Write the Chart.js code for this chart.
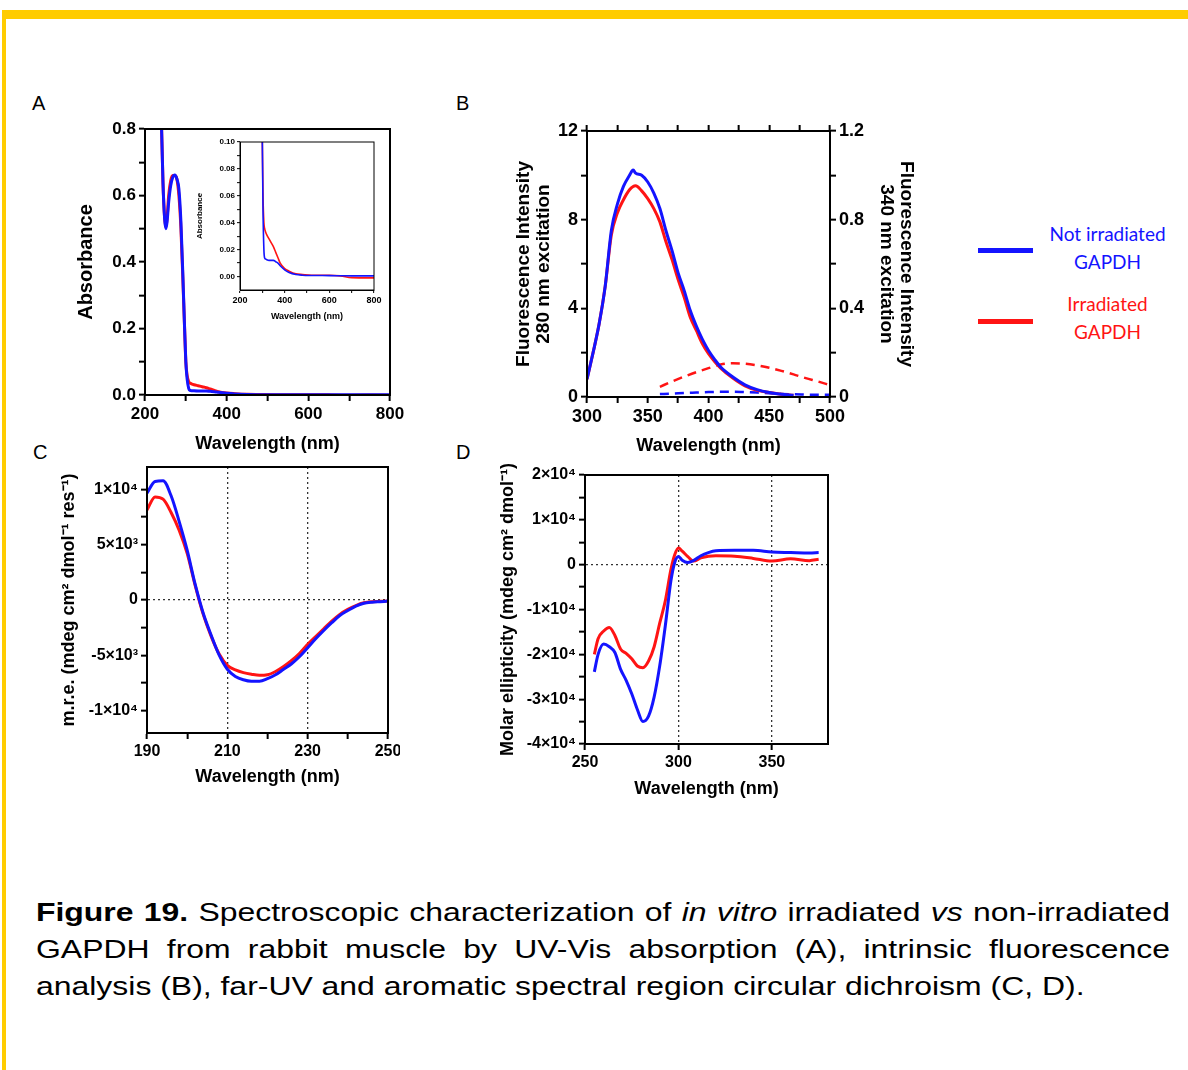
<!DOCTYPE html>
<html>
<head>
<meta charset="utf-8">
<script src="https://cdn.jsdelivr.net/npm/chart.js@4.4.1/dist/chart.umd.min.js"></script>
<style>
  body { margin: 0; background: #fff; width: 1188px; height: 1070px; position: relative; overflow: hidden; font-family: "Liberation Sans", Arial, sans-serif; }
  #border { position: absolute; left: 2px; top: 10px; right: 0; bottom: 0; border-top: 9px solid #ffcc00; border-left: 4px solid #ffcc00; }
  canvas { position: absolute; }
  .panel { position: absolute; font-size: 20px; line-height: 1; color: #000; }
  .legline { position: absolute; left: 978px; width: 55px; height: 5px; }
  .legtext { position: absolute; left: 1030px; width: 155px; text-align: center; font-family: Lato, "Open Sans", sans-serif; font-size: 19px; line-height: 28px; }
  #caption { position: absolute; left: 36px; width: 888px; top: 894px; font-size: 25px; line-height: 37px; color: #000; transform: scaleX(1.277); transform-origin: 0 0; }
  #caption .j { text-align: justify; text-align-last: justify; }
</style>
</head>
<body>
<div id="border"></div>

<div class="panel" style="left:32px;top:93px">A</div>
<div class="panel" style="left:456px;top:93px">B</div>
<div class="panel" style="left:33px;top:442px">C</div>
<div class="panel" style="left:456px;top:442px">D</div>

<canvas id="chartA" width="338" height="352" style="left:72px;top:105px"></canvas>
<canvas id="chartInset" width="190" height="192" style="left:192px;top:133px"></canvas>
<canvas id="chartB" width="410" height="359" style="left:510px;top:100px"></canvas>
<canvas id="chartC" width="344" height="350" style="left:56px;top:440px"></canvas>
<canvas id="chartD" width="355" height="372" style="left:495px;top:430px"></canvas>

<div class="legline" style="top:248px;background:#1414ff"></div>
<div class="legtext" style="top:220px;color:#1414ff">Not irradiated<br>GAPDH</div>
<div class="legline" style="top:319px;background:#ff1414"></div>
<div class="legtext" style="top:290px;color:#ff1414">Irradiated<br>GAPDH</div>

<div id="caption">
  <div class="j"><b>Figure 19.</b> Spectroscopic characterization of <i>in vitro</i> irradiated <i>vs</i> non-irradiated</div>
  <div class="j">GAPDH from rabbit muscle by UV-Vis absorption (A), intrinsic fluorescence</div>
  <div>analysis (B), far-UV and aromatic spectral region circular dichroism (C, D).</div>
</div>

<script>
// Panel A - UV-Vis absorption (also used by the inset)
const absWl = [238, 240, 244, 248, 251, 254, 258, 263, 268, 273, 278, 283, 288, 293, 297, 300, 303, 307, 310, 315, 320, 330, 340, 350, 360, 370, 380, 400, 420, 450, 480, 520, 600, 650, 700, 800];
const absNotIrr = [0.95, 0.83, 0.64, 0.53, 0.50, 0.52, 0.58, 0.63, 0.655, 0.662, 0.65, 0.62, 0.52, 0.35, 0.2, 0.1, 0.05, 0.02, 0.014, 0.013, 0.0125, 0.012, 0.012, 0.012, 0.011, 0.010, 0.008, 0.005, 0.003, 0.0015, 0.001, 0.0008, 0.0007, 0.0006, 0.0005, 0.0005];
const absIrr = [0.95, 0.83, 0.64, 0.535, 0.505, 0.53, 0.6, 0.645, 0.66, 0.66, 0.65, 0.6, 0.5, 0.34, 0.2, 0.1, 0.06, 0.04, 0.036, 0.033, 0.031, 0.028, 0.025, 0.022, 0.018, 0.014, 0.010, 0.006, 0.004, 0.002, 0.0015, 0.001, 0.001, 0.0005, -0.0008, -0.001];
const absXTicks = [200, 300, 400, 500, 600, 700, 800];
const absXLabels = [200, 400, 600, 800];
const absYTicks = [0, 0.1, 0.2, 0.3, 0.4, 0.5, 0.6, 0.7, 0.8];
const absYLabels = [0, 0.2, 0.4, 0.6, 0.8];
const insetYTicks = [0, 0.01, 0.02, 0.03, 0.04, 0.05, 0.06, 0.07, 0.08, 0.09, 0.1];
const insetYLabels = [0, 0.02, 0.04, 0.06, 0.08, 0.1];

// Panel B - intrinsic fluorescence
const fluoWl = [300, 305, 310, 315, 320, 325, 330, 335, 338, 340, 345, 350, 355, 360, 365, 370, 375, 380, 385, 390, 395, 400, 405, 410, 420, 430, 440, 450, 460, 470];
const fluoNotIrr280 = [0.8, 2.0, 3.3, 5.0, 7.5, 8.7, 9.5, 10.0, 10.24, 10.1, 10.0, 9.7, 9.2, 8.5, 7.5, 6.6, 5.6, 4.8, 3.9, 3.2, 2.6, 2.1, 1.7, 1.35, 0.9, 0.55, 0.33, 0.2, 0.12, 0.08];
const fluoIrr280 = [0.8, 2.0, 3.3, 5.0, 7.3, 8.3, 8.9, 9.35, 9.5, 9.53, 9.3, 8.95, 8.5, 7.9, 7.0, 6.2, 5.3, 4.5, 3.6, 3.0, 2.4, 1.95, 1.6, 1.3, 0.85, 0.5, 0.3, 0.2, 0.12, 0.08];
const fluo340Wl = [360, 370, 380, 390, 400, 410, 420, 430, 440, 450, 460, 470, 480, 490, 500];
const fluoNotIrr340 = [0.013, 0.015, 0.018, 0.02, 0.022, 0.024, 0.024, 0.022, 0.02, 0.017, 0.014, 0.012, 0.011, 0.01, 0.01];
const fluoIrr340 = [0.046, 0.07, 0.092, 0.112, 0.13, 0.147, 0.152, 0.15, 0.143, 0.132, 0.118, 0.102, 0.085, 0.07, 0.054];
const fluoXTicks = [300, 325, 350, 375, 400, 425, 450, 475, 500];
const fluoXLabels = [300, 350, 400, 450, 500];
const fluoYTicks = [0, 2, 4, 6, 8, 10, 12];
const fluoYLabels = [0, 4, 8, 12];
const fluoY2Ticks = [0, 0.2, 0.4, 0.6, 0.8, 1.0, 1.2];
const fluoY2Labels = [0, 0.4, 0.8, 1.2];

// Panel C - far-UV CD
const farWl = [190, 192, 194, 196, 198, 200, 202, 204, 206, 208, 210, 212, 214, 216, 218, 220, 222, 224, 226, 228, 230, 232, 234, 236, 238, 240, 242, 244, 246, 248, 250];
const farNotIrr = [9640, 10700, 10750, 9400, 7100, 4500, 1400, -1200, -3200, -5000, -6250, -6900, -7200, -7330, -7330, -7100, -6750, -6250, -5750, -5100, -4300, -3500, -2750, -2050, -1400, -950, -550, -300, -200, -150, -100];
const farIrr = [8120, 9300, 9100, 7900, 6300, 4200, 1300, -1300, -3300, -4900, -5900, -6300, -6550, -6700, -6800, -6750, -6450, -6000, -5450, -4800, -4000, -3300, -2600, -1900, -1300, -850, -500, -250, -150, -120, -100];
const farXTicks = [190, 200, 210, 220, 230, 240, 250];
const farXLabels = [190, 210, 230, 250];
const farYTicks = [-10000, -7500, -5000, -2500, 0, 2500, 5000, 7500, 10000];
const farYLabels = [-10000, -5000, 0, 5000, 10000];

// Panel D - aromatic region CD
const aroWl = [255, 257, 260, 263, 266, 269, 272, 275, 278, 281, 284, 287, 290, 293, 296, 298, 300, 302, 305, 308, 312, 316, 320, 330, 340, 350, 360, 370, 375];
const aroNotIrr = [-23900, -20000, -17700, -18300, -19600, -23300, -25800, -28800, -32300, -35000, -33800, -29500, -22500, -13500, -3500, 500, 1800, 1000, 500, 900, 2000, 2700, 3100, 3200, 3200, 2800, 2700, 2600, 2700];
const aroIrr = [-20000, -16500, -14800, -14000, -15800, -18800, -19800, -21000, -22600, -23000, -21500, -18300, -13000, -8000, -1000, 2200, 3700, 3000, 1800, 800, 1500, 1900, 2000, 1900, 1400, 800, 1300, 900, 1200];
const aroXTicks = [250, 300, 350];
const aroXLabels = [250, 300, 350];
const aroYTicks = [-40000, -35000, -30000, -25000, -20000, -15000, -10000, -5000, 0, 5000, 10000, 15000, 20000];
const aroYLabels = [-40000, -30000, -20000, -10000, 0, 10000, 20000];

const BLUE = '#1414ff';
const RED = '#ff1414';
const FONT = '"Liberation Sans", Arial, sans-serif';

const SUP = { '0': '⁰', '1': '¹', '2': '²', '3': '³', '4': '⁴', '5': '⁵', '6': '⁶', '7': '⁷', '8': '⁸', '9': '⁹', '-': '⁻' };
function sci(v) {
  if (v === 0) return '0';
  const e = Math.floor(Math.log10(Math.abs(v)));
  const m = Math.round(v / Math.pow(10, e));
  return m + '×10' + String(e).split('').map(c => SUP[c]).join('');
}

function pts(xs, ys) {
  return xs.map((x, i) => ({ x: x, y: ys[i] }));
}

function line(label, xs, ys, color, extra) {
  return Object.assign({
    label: label, data: pts(xs, ys), borderColor: color, backgroundColor: color,
    borderWidth: 3, pointRadius: 0, fill: false, cubicInterpolationMode: 'monotone'
  }, extra || {});
}

// box round the plot area, like the Prism frame
const frame = {
  id: 'frame',
  afterDraw(chart, args, opts) {
    const a = chart.chartArea, c = chart.ctx;
    c.save();
    c.strokeStyle = '#000';
    c.lineWidth = opts.width || 2;
    c.strokeRect(a.left, a.top, a.right - a.left, a.bottom - a.top);
    c.restore();
  }
};

function axis(o) {
  const horiz = o.position === 'top' || o.position === 'bottom';
  const lw = o.lw || 2;
  return {
    type: 'linear', position: o.position, min: o.min, max: o.max,
    afterBuildTicks: s => { s.ticks = o.ticks.map(v => ({ value: v })); },
    afterFit: s => {
      if (horiz) s.height = o.fixed; else s.width = o.fixed;
      s.paddingLeft = s.paddingRight = s.paddingTop = s.paddingBottom = 0;
    },
    border: { color: '#000', width: lw, dash: [2, 3] },
    grid: {
      drawOnChartArea: !!o.refLines,
      color: ctx => (o.refLines && ctx.tick && o.refLines.includes(ctx.tick.value)) ? '#333' : 'rgba(0,0,0,0)',
      lineWidth: 1.3,
      tickColor: '#000', tickLength: o.tickLen || 6, tickWidth: lw
    },
    ticks: {
      display: !!o.labels, autoSkip: false, maxRotation: 0, padding: o.pad || 3, color: '#000',
      font: { family: FONT, size: o.size || 17, weight: 'bold' },
      callback: v => (o.labels && o.labels.some(l => Math.abs(l - v) < 1e-9)) ? o.fmt(v) : ''
    },
    title: o.title ? {
      display: true, text: o.title, color: '#000',
      font: { family: FONT, size: o.titleSize || 18, weight: 'bold', lineHeight: 1.05 },
      padding: { top: 4, bottom: 4 }
    } : { display: false }
  };
}

function options(padTop, padRight, scales, frameWidth) {
  return {
    responsive: false, animation: false,
    layout: { padding: { left: 0, top: padTop, right: padRight, bottom: 0 } },
    plugins: { legend: { display: false }, tooltip: { enabled: false }, frame: { width: frameWidth || 2 } },
    scales: scales
  };
}

// A
new Chart(document.getElementById('chartA'), {
  type: 'line',
  data: { datasets: [
    line('Not irradiated GAPDH', absWl, absNotIrr, BLUE),
    line('Irradiated GAPDH', absWl, absIrr, RED)
  ] },
  options: options(24, 20, {
    x: axis({ position: 'bottom', min: 200, max: 800, ticks: absXTicks, labels: absXLabels, fmt: String, size: 17, title: 'Wavelength (nm)', titleSize: 18, fixed: 62 }),
    y: axis({ position: 'left', min: 0, max: 0.8, ticks: absYTicks, labels: absYLabels, fmt: v => v.toFixed(1), size: 17, title: 'Absorbance', titleSize: 20, fixed: 73 })
  }),
  plugins: [frame]
});

// A inset
new Chart(document.getElementById('chartInset'), {
  type: 'line',
  data: { datasets: [
    line('Not irradiated GAPDH', absWl, absNotIrr, BLUE, { borderWidth: 1.6 }),
    line('Irradiated GAPDH', absWl, absIrr, RED, { borderWidth: 1.6 })
  ] },
  options: options(9, 8, {
    x: axis({ position: 'bottom', min: 200, max: 800, ticks: absXTicks, labels: absXLabels, fmt: String, size: 9, title: 'Wavelength (nm)', titleSize: 9, fixed: 35, lw: 1, tickLen: 3, pad: 2 }),
    y: axis({ position: 'left', min: -0.01, max: 0.1, ticks: insetYTicks, labels: insetYLabels, fmt: v => v.toFixed(2), size: 8, title: 'Absorbance', titleSize: 8, fixed: 48, lw: 1, tickLen: 3, pad: 2 })
  }, 1),
  plugins: [frame]
});

// B
new Chart(document.getElementById('chartB'), {
  type: 'line',
  data: { datasets: [
    line('Not irradiated GAPDH', fluoWl, fluoNotIrr280, BLUE),
    line('Irradiated GAPDH', fluoWl, fluoIrr280, RED),
    line('Not irradiated GAPDH (340 nm)', fluo340Wl, fluoNotIrr340, BLUE, { yAxisID: 'y2', borderWidth: 2.5, borderDash: [9, 6] }),
    line('Irradiated GAPDH (340 nm)', fluo340Wl, fluoIrr340, RED, { yAxisID: 'y2', borderWidth: 2.5, borderDash: [9, 6] })
  ] },
  options: options(10, 0, {
    x: axis({ position: 'bottom', min: 300, max: 500, ticks: fluoXTicks, labels: fluoXLabels, fmt: String, size: 18, title: 'Wavelength (nm)', titleSize: 18, fixed: 62 }),
    x2: axis({ position: 'top', min: 300, max: 500, ticks: fluoXTicks, fixed: 21 }),
    y: axis({ position: 'left', min: 0, max: 12, ticks: fluoYTicks, labels: fluoYLabels, fmt: String, size: 18, title: ['Fluorescence Intensity', '280 nm excitation'], titleSize: 19, fixed: 77 }),
    y2: axis({ position: 'right', min: 0, max: 1.2, ticks: fluoY2Ticks, labels: fluoY2Labels, fmt: v => v === 0 ? '0' : v.toFixed(1), size: 18, title: ['Fluorescence Intensity', '340 nm excitation'], titleSize: 19, fixed: 90 })
  }),
  plugins: [frame]
});

// C
new Chart(document.getElementById('chartC'), {
  type: 'line',
  data: { datasets: [
    line('Not irradiated GAPDH', farWl, farNotIrr, BLUE),
    line('Irradiated GAPDH', farWl, farIrr, RED)
  ] },
  options: options(27, 12, {
    x: axis({ position: 'bottom', min: 190, max: 250, ticks: farXTicks, labels: farXLabels, refLines: [210, 230], fmt: String, size: 16, title: 'Wavelength (nm)', titleSize: 18, fixed: 57 }),
    y: axis({ position: 'left', min: -12000, max: 12000, ticks: farYTicks, labels: farYLabels, refLines: [0], fmt: sci, size: 16, title: 'm.r.e. (mdeg cm² dmol⁻¹ res⁻¹)', titleSize: 18, fixed: 91 })
  }),
  plugins: [frame]
});

// D
new Chart(document.getElementById('chartD'), {
  type: 'line',
  data: { datasets: [
    line('Not irradiated GAPDH', aroWl, aroNotIrr, BLUE),
    line('Irradiated GAPDH', aroWl, aroIrr, RED)
  ] },
  options: options(45, 22, {
    x: axis({ position: 'bottom', min: 250, max: 380, ticks: aroXTicks, labels: aroXLabels, refLines: [300, 350], fmt: String, size: 16, title: 'Wavelength (nm)', titleSize: 18, fixed: 58 }),
    y: axis({ position: 'left', min: -40000, max: 20000, ticks: aroYTicks, labels: aroYLabels, refLines: [0], fmt: sci, size: 16, title: 'Molar ellipticity (mdeg cm² dmol⁻¹)', titleSize: 18, fixed: 90 })
  }),
  plugins: [frame]
});
</script>
</body>
</html>
